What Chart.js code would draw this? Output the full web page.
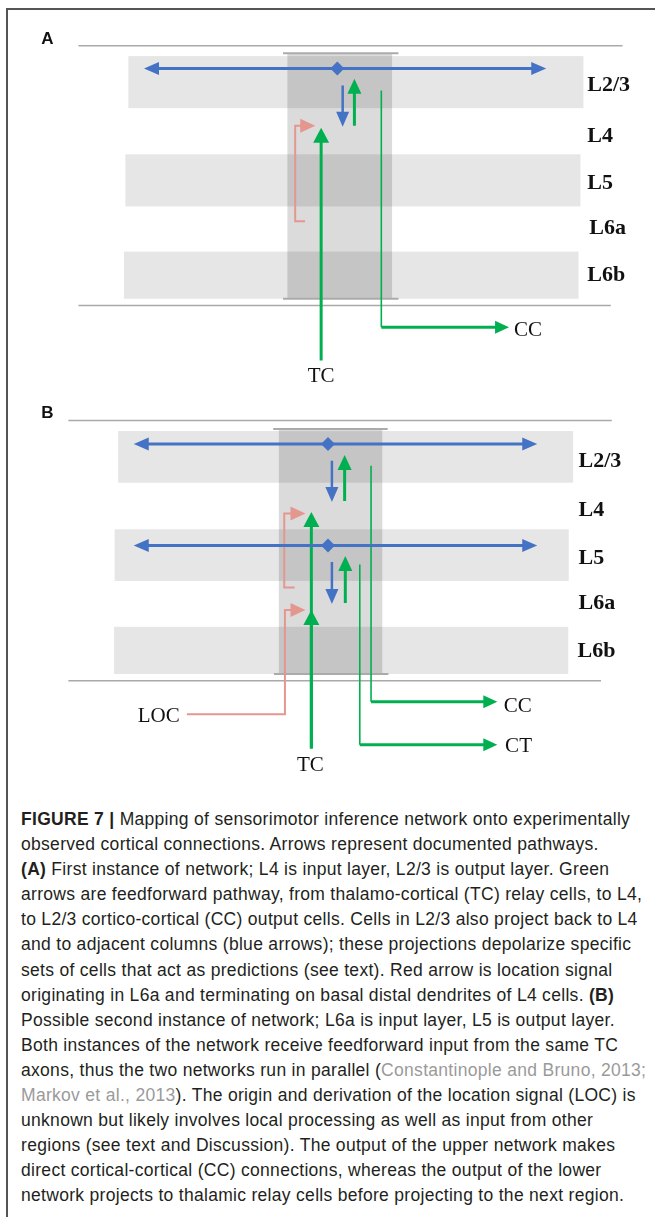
<!DOCTYPE html>
<html>
<head>
<meta charset="utf-8">
<script src="https://cdn.jsdelivr.net/npm/chart.js@4.4.1/dist/chart.umd.min.js"></script>
<style>
  html, body { margin: 0; padding: 0; background: #fff; overflow: hidden; }
  body { width: 655px; height: 1217px; position: relative; }
  #frame { position: absolute; left: 6px; top: 8px; width: 700px; height: 1300px;
           border-left: 2px solid #555; border-top: 2px solid #555; }
  #diagram { position: absolute; left: 0; top: 0; }
  #caption { position: absolute; left: 21px; top: 807px; color: #231f20; white-space: nowrap;
             font-family: 'Liberation Sans', Arial, sans-serif; font-size: 17.5px; line-height: 25.1px;
             letter-spacing: 0.3px; }
  #caption .ref { color: #9a9a9a; }
</style>
</head>
<body>
<div id="frame"></div>
<canvas id="diagram" width="655" height="790"></canvas>
<div id="caption"><b>FIGURE 7 |</b> Mapping of sensorimotor inference network onto experimentally<br>observed cortical connections. Arrows represent documented pathways.<br><b>(A)</b> First instance of network; L4 is input layer, L2/3 is output layer. Green<br>arrows are feedforward pathway, from thalamo-cortical (TC) relay cells, to L4,<br>to L2/3 cortico-cortical (CC) output cells. Cells in L2/3 also project back to L4<br>and to adjacent columns (blue arrows); these projections depolarize specific<br>sets of cells that act as predictions (see text). Red arrow is location signal<br>originating in L6a and terminating on basal distal dendrites of L4 cells. <b>(B)</b><br>Possible second instance of network; L6a is input layer, L5 is output layer.<br>Both instances of the network receive feedforward input from the same TC<br>axons, thus the two networks run in parallel (<span class="ref">Constantinople and Bruno, 2013;</span><br><span class="ref">Markov et al., 2013</span>). The origin and derivation of the location signal (LOC) is<br>unknown but likely involves local processing as well as input from other<br>regions (see text and Discussion). The output of the upper network makes<br>direct cortical-cortical (CC) connections, whereas the output of the lower<br>network projects to thalamic relay cells before projecting to the next region.</div>
<script>
// layer labels (right side of both panels)
const layerNames = ['L2/3', 'L4', 'L5', 'L6a', 'L6b'];
const layerXA = [593, 593, 593, 595, 593];
const layerYA = [86, 137, 185, 231.5, 279];
const layerXB = [584, 584, 584, 584, 583];
const layerYB = [468, 518, 567, 613, 662];

// other labels
const endLabels = ['TC', 'CC', 'TC', 'CC', 'CT', 'LOC'];
const endLabelX = [321, 518, 310, 507.5, 509, 176.5];
const endLabelY = [382, 335, 778, 718, 758, 728];
const endLabelAlign = ['center', 'left', 'center', 'left', 'left', 'right'];
const panelLetters = ['A', 'B'];
const panelLetterX = [35, 35];
const panelLetterY = [38, 418];

// grey layer bands [x0, y0, x1, y1]
const bandsA = [[124, 50, 589, 103], [121, 150, 586, 203], [119.5, 249, 584, 297]];
const bandsB = [[113.6, 431.7, 578.5, 484.3], [110, 531.7, 574, 584.3], [109.4, 631, 573.5, 679]];
const columnA = [286.5, 47, 393.5, 297];
const columnB = [277.8, 429.5, 383.5, 679];

// thin grey rules and column caps
const rulesA = [[[73, 39.5], [629, 39.5]], [[73, 304], [617, 304]]];
const rulesB = [[[62.7, 421], [618, 421]], [[62.7, 686], [607, 686]]];
const capsA = [[[282, 47], [400, 47]], [[282, 297], [400, 297]]];
const capsB = [[[272, 429.5], [389, 429.5]], [[272.8, 679], [389.7, 679]]];

// pathways, panel A
const blueSideA = [[140, 62.5], [551, 62.5]];
const blueDownA = [[343, 80], [343, 122]];
const greenUpA = [[355, 121], [355, 73]];
const ccStemA = [[382.5, 85], [382.5, 326]];
const ccOutA = [[382.5, 326], [513, 326]];
const tcA = [[321, 360], [321, 123]];
const redA = [[304.5, 218], [294.5, 218], [294.5, 121], [315, 121]];

// pathways, panel B
const blueSideB1 = [[129.5, 445], [541.8, 445]];
const blueSideB2 = [[129.5, 548.3], [541.8, 548.3]];
const blueDownB1 = [[332, 462], [332, 504]];
const greenUpB1 = [[345, 503], [345, 456]];
const blueDownB2 = [[332, 565], [332, 607.7]];
const greenUpB2 = [[345.7, 606.7], [345.7, 559]];
const ccStemB = [[372, 467], [372, 707.3]];
const ccOutB = [[372, 707.3], [501, 707.3]];
const ctStemB = [[360.5, 567.5], [360.5, 751]];
const ctOutB = [[360.5, 751], [501, 751]];
const tcB = [[311, 755], [311, 514]];
const tcB6a = [[311, 755], [311, 614]];
const redB1 = [[294, 591], [283.3, 591], [283.3, 515.7], [305, 515.7]];
const redB2 = [[183.8, 720], [284, 720], [284, 614], [305, 614]];

// diamond markers where the blue arrows branch
const diamonds = [[337.5, 62.5], [328, 445], [328, 548.3]];

const BLUE = '#4472c4', GREEN = '#00b050', RED = '#e3978f', RULE = '#a9a9a9', CAP = '#ababab';

function path(points, color, width, head) {
    return {
        data: points.map(p => ({ x: p[0], y: p[1] })),
        showLine: true,
        borderColor: color,
        backgroundColor: color,
        borderWidth: width,
        borderCapStyle: 'butt',
        borderJoinStyle: 'miter',
        pointRadius: 0,
        tension: 0,
        fill: false,
        head: head || null
    };
}

// build datasets bottom-up, reversed at the end (Chart.js draws index 0 last)
const layers = [];
rulesA.concat(rulesB).forEach(r => layers.push(path(r, RULE, 1.5)));
capsA.concat(capsB).forEach(r => layers.push(path(r, CAP, 2)));
[redA, redB1, redB2].forEach(p => layers.push(path(p, RED, 2, { end: [15, 14] })));
[ccStemA, ccStemB, ctStemB].forEach(p => layers.push(path(p, GREEN, 1.6)));
[ccOutA, ccOutB, ctOutB].forEach(p => layers.push(path(p, GREEN, 3, { end: [14, 13] })));
[tcA, tcB, tcB6a].forEach(p => layers.push(path(p, GREEN, 3, { end: [15, 16] })));
[greenUpA, greenUpB1, greenUpB2].forEach(p => layers.push(path(p, GREEN, 3, { end: [15, 14] })));
[blueDownA, blueDownB1, blueDownB2].forEach(p => layers.push(path(p, BLUE, 2.5, { end: [15, 13] })));
[blueSideA, blueSideB1, blueSideB2].forEach(p => layers.push(path(p, BLUE, 3, { start: [15, 13], end: [15, 13] })));
layers.push({
    data: diamonds.map(p => ({ x: p[0], y: p[1] })),
    showLine: false,
    pointStyle: 'rectRot',
    pointRadius: 7,
    backgroundColor: BLUE,
    borderColor: BLUE,
    borderWidth: 0
});
const datasets = layers.reverse();

// grey bands and the shaded column
const rectPlugin = {
    id: 'rects',
    beforeDatasetsDraw(chart) {
        const ctx = chart.ctx, xs = chart.scales.x, ys = chart.scales.y;
        const fillRect = (r, color) => {
            const x0 = xs.getPixelForValue(r[0]), x1 = xs.getPixelForValue(r[2]);
            const y0 = ys.getPixelForValue(r[1]), y1 = ys.getPixelForValue(r[3]);
            ctx.fillStyle = color;
            ctx.fillRect(x0, Math.min(y0, y1), x1 - x0, Math.abs(y1 - y0));
        };
        ctx.save();
        bandsA.concat(bandsB).forEach(r => fillRect(r, '#e6e6e6'));
        [columnA, columnB].forEach(r => fillRect(r, 'rgba(0,0,0,0.14)'));
        ctx.restore();
    }
};

// arrowheads: cut the line out under the head, then fill a triangle
function headGeom(tip, from, len, wid) {
    const dx = tip.x - from.x, dy = tip.y - from.y;
    const d = Math.hypot(dx, dy) || 1;
    const ux = dx / d, uy = dy / d;
    return { tip, ux, uy, bx: tip.x - ux * len, by: tip.y - uy * len, len, wid };
}
function headsFor(chart, index) {
    const ds = chart.data.datasets[index];
    if (!ds.head) return [];
    const pts = chart.getDatasetMeta(index).data;
    const out = [];
    if (ds.head.end) out.push(headGeom(pts[pts.length - 1], pts[pts.length - 2], ds.head.end[0], ds.head.end[1]));
    if (ds.head.start) out.push(headGeom(pts[0], pts[1], ds.head.start[0], ds.head.start[1]));
    return out;
}
const arrowPlugin = {
    id: 'arrows',
    beforeDatasetDraw(chart, args) {
        const heads = headsFor(chart, args.index);
        if (!heads.length) return;
        const ctx = chart.ctx;
        ctx.save();
        ctx.beginPath();
        ctx.rect(-10, -10, chart.width + 20, chart.height + 20);
        heads.forEach(h => {
            const px = -h.uy * h.wid / 2, py = h.ux * h.wid / 2;
            const sx = h.bx + h.ux, sy = h.by + h.uy;
            const ex = h.tip.x + h.ux * 3, ey = h.tip.y + h.uy * 3;
            ctx.moveTo(sx + px, sy + py);
            ctx.lineTo(ex + px, ey + py);
            ctx.lineTo(ex - px, ey - py);
            ctx.lineTo(sx - px, sy - py);
            ctx.closePath();
        });
        ctx.clip('evenodd');
    },
    afterDatasetDraw(chart, args) {
        const heads = headsFor(chart, args.index);
        if (!heads.length) return;
        const ctx = chart.ctx;
        ctx.restore();
        ctx.save();
        ctx.fillStyle = chart.data.datasets[args.index].borderColor;
        heads.forEach(h => {
            const px = -h.uy * h.wid / 2, py = h.ux * h.wid / 2;
            ctx.beginPath();
            ctx.moveTo(h.tip.x, h.tip.y);
            ctx.lineTo(h.bx + px, h.by + py);
            ctx.lineTo(h.bx - px, h.by - py);
            ctx.closePath();
            ctx.fill();
        });
        ctx.restore();
    }
};

// text labels placed through the scales
const labelPlugin = {
    id: 'labels',
    afterDatasetsDraw(chart) {
        const ctx = chart.ctx, xs = chart.scales.x, ys = chart.scales.y;
        ctx.save();
        ctx.fillStyle = '#111';
        ctx.textBaseline = 'alphabetic';
        ctx.font = 'bold 22px "Liberation Serif", "Times New Roman", serif';
        ctx.textAlign = 'left';
        layerNames.forEach((t, i) => {
            ctx.fillText(t, xs.getPixelForValue(layerXA[i]), ys.getPixelForValue(layerYA[i]));
            ctx.fillText(t, xs.getPixelForValue(layerXB[i]), ys.getPixelForValue(layerYB[i]));
        });
        ctx.font = '21px "Liberation Serif", "Times New Roman", serif';
        endLabels.forEach((t, i) => {
            ctx.textAlign = endLabelAlign[i];
            ctx.fillText(t, xs.getPixelForValue(endLabelX[i]), ys.getPixelForValue(endLabelY[i]));
        });
        ctx.font = 'bold 17px "Liberation Sans", Arial, sans-serif';
        ctx.textAlign = 'left';
        panelLetters.forEach((t, i) => {
            ctx.fillText(t, xs.getPixelForValue(panelLetterX[i]), ys.getPixelForValue(panelLetterY[i]));
        });
        ctx.restore();
    }
};

new Chart(document.getElementById('diagram').getContext('2d'), {
    type: 'scatter',
    data: { datasets: datasets },
    options: {
        responsive: false,
        animation: false,
        events: [],
        layout: { padding: 0 },
        plugins: { legend: { display: false }, tooltip: { enabled: false } },
        scales: {
            x: { type: 'linear', min: 0, max: 655, display: false },
            y: { type: 'linear', min: 0, max: 790, reverse: true, display: false }
        }
    },
    plugins: [rectPlugin, arrowPlugin, labelPlugin]
});
</script>
</body>
</html>
